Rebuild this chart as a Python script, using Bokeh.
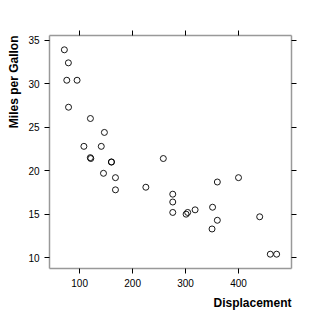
from bokeh.plotting import figure
from bokeh.models import LinearAxis, FixedTicker, Title, Range1d
from bokeh.embed import file_html
from bokeh.resources import INLINE

disp = [160, 160, 108, 258, 360, 225, 360, 146.7, 140.8, 167.6, 167.6, 275.8, 275.8, 275.8,
        472, 460, 440, 78.7, 75.7, 71.1, 120.1, 318, 304, 350, 400, 79, 120.3, 95.1, 351, 145, 301, 121]
mpg = [21.0, 21.0, 22.8, 21.4, 18.7, 18.1, 14.3, 24.4, 22.8, 19.2, 17.8, 16.4, 17.3, 15.2,
       10.4, 10.4, 14.7, 32.4, 30.4, 33.9, 21.5, 15.5, 15.2, 13.3, 19.2, 27.3, 26.0, 30.4, 15.8, 19.7, 15.0, 21.4]
x_ticks = [100, 200, 300, 400]
y_ticks = [10, 15, 20, 25, 30, 35]
x_label = "Displacement"
y_label = "Miles per Gallon"

FONT = "Liberation Sans"
AX = "#999999"

def pad(vals):
    lo, hi = min(vals), max(vals)
    d = (hi - lo) * 0.07
    return lo - d, hi + d

p = figure(width=320, height=320, output_backend="svg", toolbar_location=None,
           x_range=Range1d(*pad(disp)), y_range=Range1d(*pad(mpg)),
           x_axis_location=None, y_axis_location=None,
           min_border_left=48, min_border_right=29, min_border_top=35, min_border_bottom=52)
p.grid.visible = False
p.outline_line_color = None
p.background_fill_color = "white"
p.border_fill_color = "white"

def mk(ticks, labels=True):
    a = LinearAxis(ticker=FixedTicker(ticks=ticks))
    a.axis_line_color = AX
    a.axis_line_width = 1.5
    a.major_tick_line_color = "black"
    a.major_tick_out = 5
    a.major_tick_in = 0
    a.minor_tick_line_color = None
    a.major_label_text_font = FONT
    a.major_label_text_font_size = "10px"
    a.major_label_text_color = "black"
    a.major_label_standoff = 5
    if not labels:
        a.major_label_overrides = {t: "" for t in ticks}
        a.major_label_standoff = 0
    return a

p.add_layout(mk(x_ticks), "below")
p.add_layout(mk(x_ticks, False), "above")
p.add_layout(mk(y_ticks), "left")
p.add_layout(mk(y_ticks, False), "right")

p.add_layout(Title(text=x_label, align="right", text_font=FONT, text_font_size="12px",
                   text_font_style="bold", text_color="black", standoff=9), "below")
p.add_layout(Title(text=y_label, align="right", text_font=FONT, text_font_size="12px",
                   text_font_style="bold", text_color="black", standoff=9), "left")

p.scatter(disp, mpg, marker="circle", size=6, fill_color=None, line_color="black", line_width=0.9)

open("out.html", "w").write(file_html(p, INLINE))
